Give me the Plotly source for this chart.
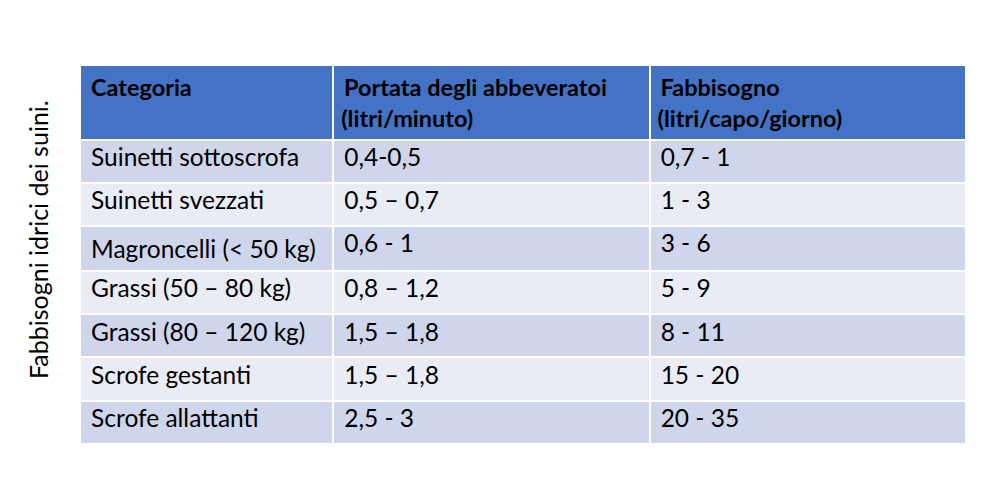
import plotly.graph_objects as go

header = ["<b>Categoria</b>", "<b>Portata degli abbeveratoi<br>(litri/minuto)</b>", "<b>Fabbisogno<br>(litri/capo/giorno)</b>"]
categorie = ["Suinetti sottoscrofa", "Suinetti svezzati", "Magroncelli (< 50 kg)", "Grassi (50 – 80 kg)",
             "Grassi (80 – 120 kg)", "Scrofe gestanti", "Scrofe allattanti"]
portata = ["0,4-0,5", "0,5 – 0,7", "0,6 - 1", "0,8 – 1,2", "1,5 – 1,8", "1,5 – 1,8", "2,5 - 3"]
fabbisogno = ["0,7 - 1", "1 - 3", "3 - 6", "5 - 9", "8 - 11", "15 - 20", "20 - 35"]
titolo = "Fabbisogni idrici dei suini."

W, H = 1000, 503
x0, x1 = 72, 958
y0 = 57
row_colors = ["#CFD5EA" if i % 2 == 0 else "#E9EBF5" for i in range(len(categorie))]
pad = "\u2009"

def padded(col):
    return [pad + v for v in col]

fig = go.Figure(go.Table(
    domain=dict(x=[x0 / W, x1 / W], y=[0, 1 - y0 / H]),
    columnwidth=[252, 315, 315],
    header=dict(values=padded(header), fill_color="#4472C4", align="left",
                font=dict(family="Lato", size=23.5, color="black"),
                line=dict(color="white", width=2), height=71.5),
    cells=dict(values=[padded(categorie), padded(portata), padded(fabbisogno)],
               fill_color=[row_colors] * 3, align="left",
               font=dict(family="Lato", size=24.5, color="black"),
               line=dict(color="white", width=2), height=43.2),
))
fig.add_annotation(text=titolo, textangle=-90, x=30 / W, y=1 - 232 / H, xref="paper", yref="paper",
                   xanchor="center", yanchor="middle",
                   showarrow=False, font=dict(family="Lato", size=25, color="black"))
fig.update_layout(width=W, height=H, margin=dict(l=0, r=0, t=0, b=0),
                  paper_bgcolor="white", plot_bgcolor="white")
fig.write_html("out.html")
